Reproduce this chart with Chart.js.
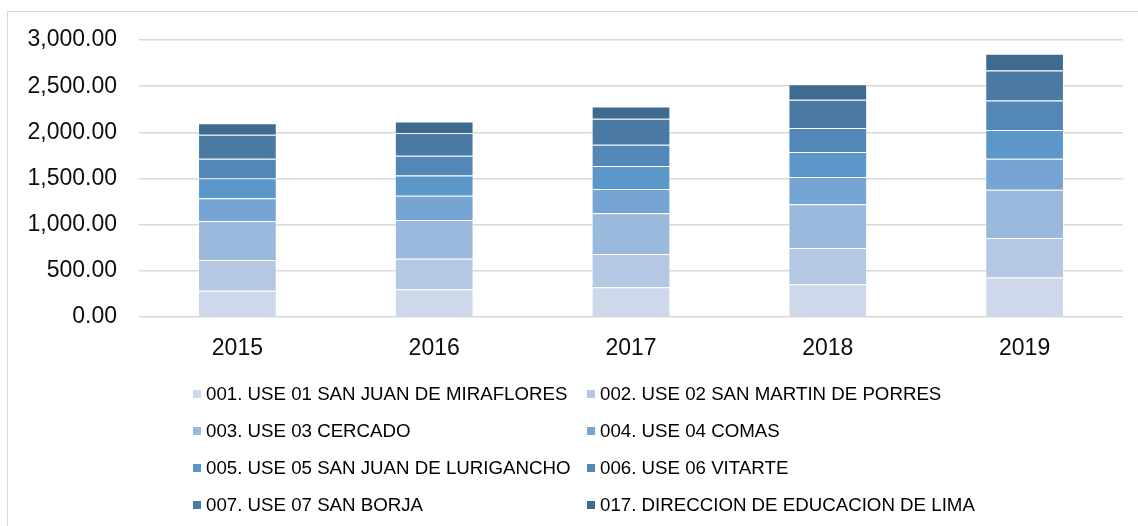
<!DOCTYPE html>
<html lang="es">
<head>
<meta charset="UTF-8">
<title>USE - Lima</title>
<script src="https://cdn.jsdelivr.net/npm/chart.js"></script>
<style>
body {
  margin: 0;
  background: #ffffff;
  font-family: "Liberation Sans", Arial, sans-serif;
}
#wrap {
  position: relative;
  width: 1138px;
  height: 526px;
  overflow: hidden;
}
#frame {
  position: absolute;
  left: 7px;
  top: 11px;
  width: 1150px;
  height: 540px;
  border: 1.5px solid #d9d9d9;
}
#chart-box {
  position: absolute;
  left: 0;
  top: 0;
  width: 1138px;
  height: 526px;
}
#legend {
  position: absolute;
  left: 193px;
  top: 376px;
  display: grid;
  grid-template-columns: 394px 400px;
  grid-auto-rows: 36.8px;
}
.item {
  display: flex;
  align-items: center;
  font-size: 18.7px;
  color: #000;
  white-space: nowrap;
}
.box {
  width: 8px;
  height: 8px;
  margin-right: 5px;
}
</style>
</head>
<body>
<div id="wrap">
  <div id="frame"></div>
  <div id="chart-box"><canvas id="chart"></canvas></div>
  <div id="legend"></div>
</div>

<script>
// años
const years = ["2015", "2016", "2017", "2018", "2019"];

// valores por unidad
const use01 = [283, 301, 323, 355, 428];
const use02 = [333, 329, 358, 392, 427];
const use03 = [424, 421, 443, 475, 522];
const use04 = [247, 261, 261, 293, 337];
const use05 = [217, 221, 250, 272, 312];
const use06 = [210, 214, 231, 261, 319];
const use07 = [261, 246, 280, 304, 326];
const dre17 = [123, 123, 133, 170, 181];

const names = [
  "001. USE 01 SAN JUAN DE MIRAFLORES",
  "002. USE 02 SAN MARTIN DE PORRES",
  "003. USE 03 CERCADO",
  "004. USE 04 COMAS",
  "005. USE 05 SAN JUAN DE LURIGANCHO",
  "006. USE 06 VITARTE",
  "007. USE 07 SAN BORJA",
  "017. DIRECCION DE EDUCACION DE LIMA"
];
const colors = ["#cdd9ea", "#b4c8e3", "#99b9dd", "#76a5d4", "#5b97c9", "#5287b8", "#4a79a4", "#3f6b91"];
const series = [use01, use02, use03, use04, use05, use06, use07, dre17];

const tickFont = { family: "'Liberation Sans', Arial, sans-serif", size: 23 };

new Chart(document.getElementById("chart"), {
  type: "bar",
  data: {
    labels: years,
    datasets: series.map((s, i) => ({
      label: names[i],
      data: s,
      backgroundColor: colors[i],
      borderColor: "rgba(255,255,255,0.45)",
      borderWidth: 1,
      barPercentage: 0.4,
      categoryPercentage: 1.0
    }))
  },
  options: {
    responsive: true,
    maintainAspectRatio: false,
    animation: false,
    layout: { padding: { left: 0, right: 15, top: 40, bottom: 159 } },
    plugins: {
      legend: { display: false },
      tooltip: { enabled: false }
    },
    scales: {
      x: {
        stacked: true,
        grid: { display: false },
        border: { display: false },
        ticks: { font: tickFont, color: "#0d0d0d", padding: 10 },
        afterFit: s => { s.height = 50; }
      },
      y: {
        stacked: true,
        min: 0,
        max: 3000,
        ticks: {
          stepSize: 500,
          font: tickFont,
          color: "#0d0d0d",
          padding: 22,
          callback: v => v.toLocaleString("en-US", { minimumFractionDigits: 2, maximumFractionDigits: 2 })
        },
        grid: { color: "#d9d9d9", lineWidth: 1.5, drawTicks: false },
        border: { display: false },
        afterFit: s => { s.width = 139; }
      }
    }
  }
});

// leyenda en dos columnas
const legend = document.getElementById("legend");
names.forEach((n, i) => {
  const it = document.createElement("div");
  it.className = "item";
  it.innerHTML = `<span class="box" style="background:${colors[i]}"></span><span>${n}</span>`;
  legend.appendChild(it);
});
</script>
</body>
</html>
